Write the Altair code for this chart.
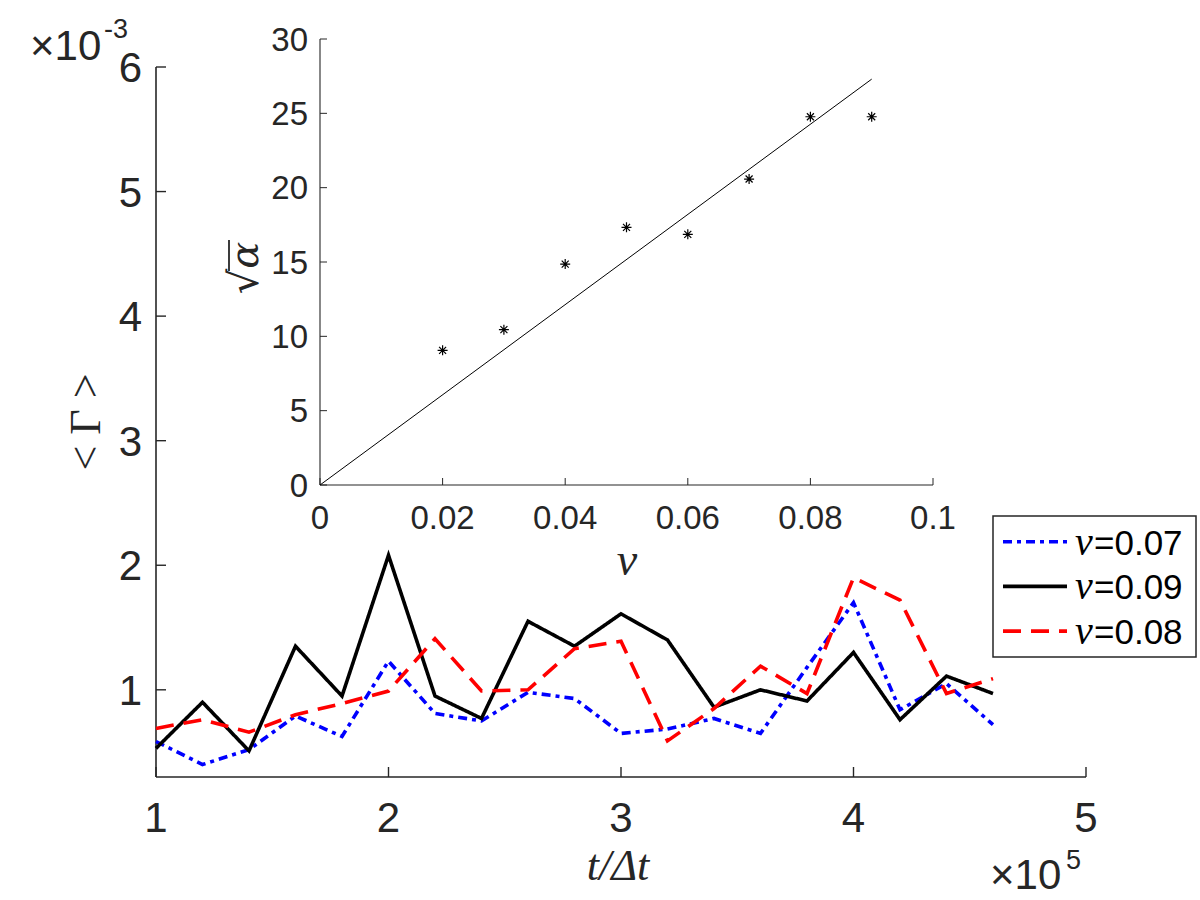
import altair as alt
import pandas as pd

# ---------------- data ----------------
t_values = [1.0, 1.2, 1.4, 1.6, 1.8, 2.0, 2.2, 2.4, 2.6, 2.8, 3.0, 3.2, 3.4, 3.6, 3.8, 4.0, 4.2, 4.4, 4.6]
gamma_nu_007 = [0.585, 0.40, 0.52, 0.79, 0.625, 1.23, 0.81, 0.75, 0.98, 0.93, 0.65, 0.685, 0.77, 0.65, 1.18, 1.70, 0.84, 1.05, 0.72]
gamma_nu_009 = [0.53, 0.90, 0.51, 1.35, 0.95, 2.08, 0.95, 0.77, 1.55, 1.35, 1.61, 1.40, 0.86, 1.00, 0.91, 1.30, 0.76, 1.11, 0.97]
gamma_nu_008 = [0.69, 0.76, 0.66, 0.80, 0.89, 0.99, 1.41, 0.99, 1.00, 1.33, 1.39, 0.59, 0.85, 1.19, 0.97, 1.90, 1.72, 0.97, 1.09]
series_labels = ["0.07", "0.09", "0.08"]
series_colors = ["#0000ff", "#000000", "#ff0000"]
series_dashes = [[9, 5, 4, 5], [1, 0], [18, 10]]

inset_nu = [0.02, 0.03, 0.04, 0.05, 0.06, 0.07, 0.08, 0.09]
inset_sqrt_alpha = [9.06, 10.45, 14.86, 17.33, 16.86, 20.58, 24.77, 24.77]
fit_nu = [0.0, 0.09]
fit_sqrt_alpha = [0.0, 27.3]

main_x_ticks = [1, 2, 3, 4, 5]
main_y_ticks = [1, 2, 3, 4, 5, 6]
inset_x_ticks = [0, 0.02, 0.04, 0.06, 0.08, 0.1]
inset_y_ticks = [0, 5, 10, 15, 20, 25, 30]

main_x_title = "t/Δt"
main_y_title = "< Γ >"
inset_x_title = "ν"
inset_y_title = "√α"
exp_base = "×10"
main_y_exp = "-3"
main_x_exp = "5"
legend_symbol = "ν"

# ---------------- layout / style ----------------
W, H = 1200, 900
M_L, M_R, M_B, M_T = 156, 1086, 777, 67
I_L, I_R, I_B, I_T = 320, 933, 485, 39
AX = "#262626"
SANS = "Liberation Sans"
SERIF = "Liberation Serif"

mx = alt.Scale(domain=[1, 5], range=[M_L, M_R], nice=False, zero=False)
my = alt.Scale(domain=[0.3, 6], range=[M_B, M_T], nice=False, zero=False)
ix = alt.Scale(domain=[0, 0.1], range=[I_L, I_R], nice=False, zero=False)
iy = alt.Scale(domain=[0, 30], range=[I_B, I_T], nice=False, zero=False)


def axis_layers(xs, ys, xticks, yticks, xdom, ydom, x_at, y_at, tick_len, dw, tw,
                fs, xfmt, yfmt, x_base, y_right, digit_h):
    """Axis lines, inward ticks and tick labels drawn as marks through the panel scales."""
    tx = pd.DataFrame({"v": xticks})
    ty = pd.DataFrame({"v": yticks})
    dom_x = alt.Chart(pd.DataFrame({"a": [xdom[0]], "b": [xdom[1]]})).mark_rule(
        color=AX, strokeWidth=dw).encode(
        x=alt.X("a:Q", scale=xs, axis=None), x2="b:Q", y=alt.value(x_at))
    dom_y = alt.Chart(pd.DataFrame({"a": [ydom[0]], "b": [ydom[1]]})).mark_rule(
        color=AX, strokeWidth=dw).encode(
        y=alt.Y("a:Q", scale=ys, axis=None), y2="b:Q", x=alt.value(y_at))
    tk_x = alt.Chart(tx).mark_rule(color=AX, strokeWidth=tw).encode(
        x=alt.X("v:Q", scale=xs, axis=None), y=alt.value(x_at), y2=alt.value(x_at - tick_len))
    tk_y = alt.Chart(ty).mark_rule(color=AX, strokeWidth=tw).encode(
        y=alt.Y("v:Q", scale=ys, axis=None), x=alt.value(y_at), x2=alt.value(y_at + tick_len))
    lb_x = alt.Chart(tx).mark_text(font=SANS, fontSize=fs, color=AX, align="center",
                                   baseline="alphabetic").encode(
        x=alt.X("v:Q", scale=xs, axis=None), y=alt.value(x_base), text=alt.Text("v:Q", format=xfmt))
    lb_y = alt.Chart(ty).mark_text(font=SANS, fontSize=fs, color=AX, align="right",
                                   baseline="alphabetic", dy=digit_h / 2).encode(
        y=alt.Y("v:Q", scale=ys, axis=None), x=alt.value(y_right), text=alt.Text("v:Q", format=yfmt))
    return [dom_x, dom_y, tk_x, tk_y, lb_x, lb_y]


# ---------------- main panel ----------------
rows = []
for lab, vals in zip(series_labels, [gamma_nu_007, gamma_nu_009, gamma_nu_008]):
    for t, g in zip(t_values, vals):
        rows.append({"t": t, "g": g, "series": lab})
main_df = pd.DataFrame(rows)

lines = alt.Chart(main_df).mark_line(strokeWidth=3.6).encode(
    x=alt.X("t:Q", scale=mx, axis=None),
    y=alt.Y("g:Q", scale=my, axis=None),
    color=alt.Color("series:N", scale=alt.Scale(domain=series_labels, range=series_colors), legend=None),
    strokeDash=alt.StrokeDash("series:N", scale=alt.Scale(domain=series_labels, range=series_dashes), legend=None),
)

main = alt.layer(
    *axis_layers(mx, my, main_x_ticks, main_y_ticks, [1, 5], [0.3, 6], M_B, M_L, 10, 1.6, 1.4,
                 42, "d", "d", 832, 142, 30),
    lines,
)

# ---------------- inset ----------------
STAR = "M-1,0L1,0M0,-1L0,1M-0.7,-0.7L0.7,0.7M-0.7,0.7L0.7,-0.7"
fit = alt.Chart(pd.DataFrame({"nu": fit_nu, "a": fit_sqrt_alpha})).mark_line(color="black", strokeWidth=1).encode(
    x=alt.X("nu:Q", scale=ix, axis=None), y=alt.Y("a:Q", scale=iy, axis=None))
pts = alt.Chart(pd.DataFrame({"nu": inset_nu, "a": inset_sqrt_alpha})).mark_point(
    shape=STAR, size=100, filled=False, color="black", strokeWidth=1.2, opacity=1).encode(
    x=alt.X("nu:Q", scale=ix, axis=None), y=alt.Y("a:Q", scale=iy, axis=None))

inset = alt.layer(
    *axis_layers(ix, iy, inset_x_ticks, inset_y_ticks, [0, 0.1], [0, 30], I_B, I_L, 7, 1.1, 1,
                 33, ".2~f", "d", 528.5, 308, 23.5),
    fit, pts,
)


# ---------------- annotations ----------------
def txt(s, x, y, size, font, style="normal", align="left", baseline="alphabetic", angle=None, color=AX):
    kw = dict(fontSize=size, font=font, fontStyle=style, align=align, baseline=baseline, color=color)
    if angle is not None:
        kw["angle"] = angle
    return alt.Chart(pd.DataFrame({"s": [s]})).mark_text(**kw).encode(
        x=alt.value(x), y=alt.value(y), text="s:N")


# vinculum of the radical (rotated label, so it runs vertically)
vinculum = alt.Chart(pd.DataFrame({"k": [0]})).mark_rule(color=AX, strokeWidth=1.8).encode(
    x=alt.value(229), y=alt.value(271), y2=alt.value(240))

notes = [
    txt(main_y_title, 87, 422, 44, SERIF, align="center", baseline="middle", angle=270),
    txt(main_x_title, 618, 880, 44, SERIF, style="italic", align="center"),
    txt(exp_base, 30, 60, 42, SANS),
    txt(main_y_exp, 104, 38, 27, SANS),
    txt(exp_base, 990, 889, 42, SANS),
    txt(main_x_exp, 1066, 869, 27, SANS),
    txt(inset_y_title, 246, 268, 40, "DejaVu Serif", style="italic", align="center", baseline="middle", angle=270),
    vinculum,
    txt(inset_x_title, 627, 575, 46, SERIF, style="italic", align="center"),
]

# ---------------- legend ----------------
leg_box = alt.Chart(pd.DataFrame({"k": [0]})).mark_rect(fill="white", stroke=AX, strokeWidth=1.5).encode(
    x=alt.value(993), x2=alt.value(1196), y=alt.value(516), y2=alt.value(657))
legend_layers = [leg_box]
for i, (lab, col, dash) in enumerate(zip(series_labels, series_colors, series_dashes)):
    yy = 541.7 + i * 44.7
    legend_layers.append(
        alt.Chart(pd.DataFrame({"k": [0]})).mark_rule(color=col, strokeWidth=3.6, strokeDash=dash).encode(
            x=alt.value(1003), x2=alt.value(1067), y=alt.value(yy)))
    legend_layers.append(txt(legend_symbol, 1075, yy + 13, 40, SERIF, style="italic", color="black"))
    legend_layers.append(txt("=" + lab, 1094, yy + 13, 35, SANS, color="black"))

chart = alt.layer(main, inset, *notes, *legend_layers).resolve_scale(
    x="independent", y="independent"
).properties(
    width=W, height=H, autosize=alt.AutoSizeParams(type="none"), padding=0
).configure_view(stroke=None)

chart.save("out.html", embed_options={"renderer": "svg", "actions": False})
